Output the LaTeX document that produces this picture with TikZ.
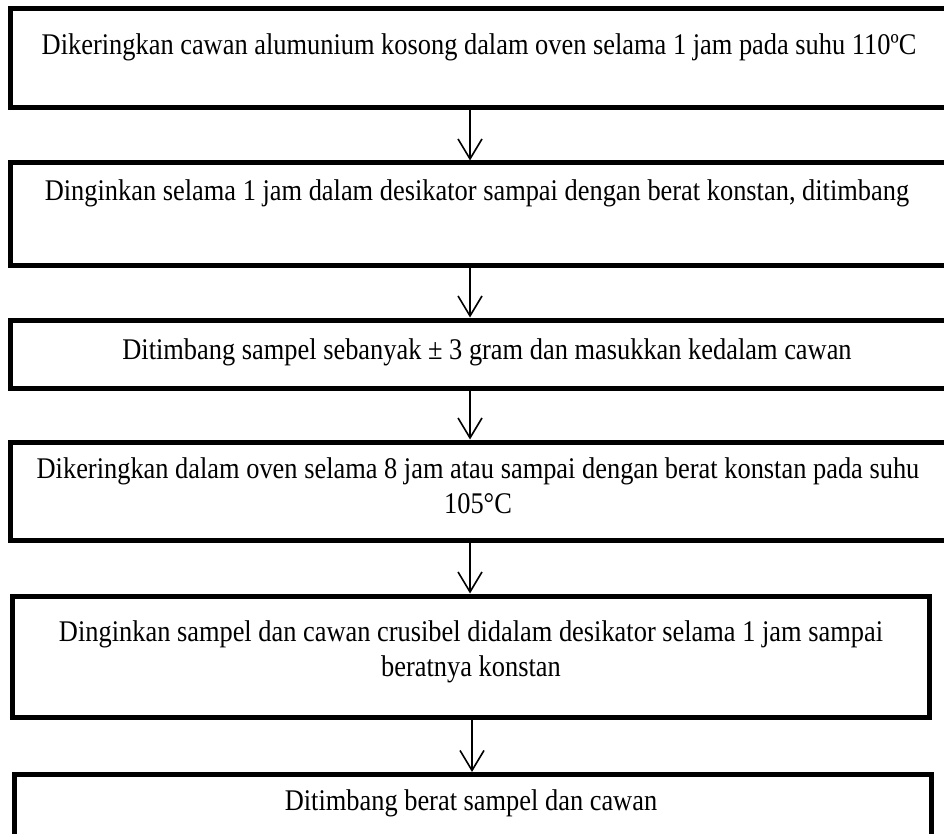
\documentclass[tikz,border=0pt]{standalone}
\usepackage{fontspec}
\setmainfont[FakeStretch=0.88]{Liberation Serif}
\usetikzlibrary{arrows.meta}
\begin{document}
\begin{tikzpicture}[x=1pt,y=-1pt,
  stepbox/.style={draw=black,line width=5pt,rectangle,inner sep=0pt,fill=white},
  steptext/.style={font=\fontsize{30}{35}\selectfont,align=center,inner sep=0pt},
  flow/.style={draw=black,line width=1.6pt,-{Straight Barb[length=20pt,width=24pt,line width=1.6pt]}}]
  \useasboundingbox[fill=white] (0,0) rectangle (944,834);

  % process boxes
  \node[stepbox,minimum width=937.5pt,minimum height=99.5pt] (b1) at (479.25,58.25) {};
  \node[stepbox,minimum width=937.5pt,minimum height=102pt] (b2) at (479.25,214) {};
  \node[stepbox,minimum width=937.5pt,minimum height=68pt] (b3) at (479.25,354) {};
  \node[stepbox,minimum width=937.5pt,minimum height=98pt] (b4) at (479.25,491) {};
  \node[stepbox,minimum width=917.5pt,minimum height=121pt] (b5) at (470.75,656.5) {};
  \node[stepbox,minimum width=916.5pt,minimum height=95pt] (b6) at (472.75,822) {};

  % box texts
  \node[steptext] (t1) at (479,47) {Dikeringkan cawan alumunium kosong dalam oven selama 1 jam pada suhu 110ºC};
  \node[steptext] (t2) at (477,193) {Dinginkan selama 1 jam dalam desikator sampai dengan berat konstan, ditimbang};
  \node[steptext] (t3) at (487,352) {Ditimbang sampel sebanyak ± 3 gram dan masukkan kedalam cawan};
  \node[steptext] (t4) at (478,486) {Dikeringkan dalam oven selama 8 jam atau sampai dengan berat konstan pada suhu\\105°C};
  \node[steptext] (t5) at (471,652) {Dinginkan sampel dan cawan crusibel didalam desikator selama 1 jam sampai\\beratnya konstan};
  \node[steptext] (t6) at (471,803) {Ditimbang berat sampel dan cawan};

  % connector columns
  \coordinate (c1) at (470,0);
  \coordinate (c2) at (472,0);

  \draw[flow] (b1.south -| c1) -- (b2.north -| c1);
  \draw[flow] (b2.south -| c1) -- (b3.north -| c1);
  \draw[flow] (b3.south -| c1) -- (b4.north -| c1);
  \draw[flow] (b4.south -| c1) -- (b5.north -| c1);
  \draw[flow] (b5.south -| c2) -- (b6.north -| c2);
\end{tikzpicture}
\end{document}
